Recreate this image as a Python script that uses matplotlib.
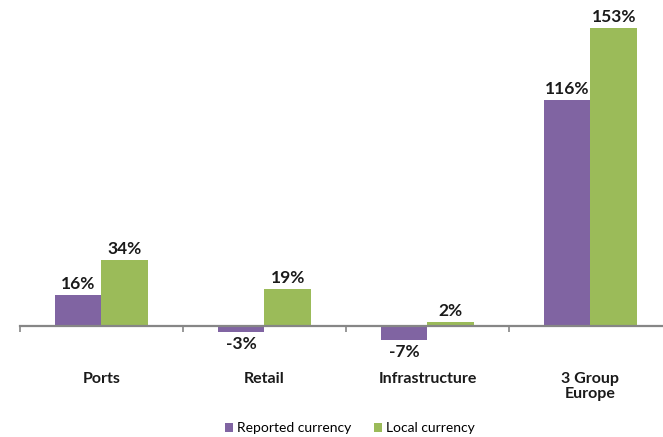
import matplotlib
matplotlib.use("Agg")
import matplotlib.pyplot as plt
from matplotlib.patches import Patch
import numpy as np

categories = ["Ports", "Retail", "Infrastructure", "3 Group\nEurope"]
reported = [16, -3, -7, 116]
local = [34, 19, 2, 153]
series_names = ["Reported currency", "Local currency"]
colors = ["#8064A2", "#9BBB59"]

plt.rcParams['font.family'] = ['Lato', 'DejaVu Sans']

W, H = 663, 437
fig = plt.figure(figsize=(W / 100, H / 100), dpi=100)

# axes: left px 20, right px 663, top px 0, bottom px ~350
ax = fig.add_axes([20 / W, (H - 350) / H, (663 - 20) / W, 350 / H])
ax.set_xlim(-0.5, 3.445)
ax.set_ylim(-12.3, 167.4)

x = np.arange(len(categories))
bw = 0.285
b1 = ax.bar(x - bw / 2, reported, bw, color=colors[0], label=series_names[0])
b2 = ax.bar(x + bw / 2, local, bw, color=colors[1], label=series_names[1])

for bars, vals in ((b1, reported), (b2, local)):
    for rect, v in zip(bars, vals):
        cx = rect.get_x() + rect.get_width() / 2
        if v >= 0:
            ax.annotate(f"{v}%", (cx, v), xytext=(0, 2), textcoords="offset points",
                        ha="center", va="bottom", fontsize=12.5, fontweight="bold", color="#1a1a1a")
        else:
            ax.annotate(f"{v}%", (cx, v), xytext=(0, -3), textcoords="offset points",
                        ha="center", va="top", fontsize=12.5, fontweight="bold", color="#1a1a1a")

for s in ("top", "right", "left"):
    ax.spines[s].set_visible(False)
ax.spines["bottom"].set_position(("data", 0))
ax.spines["bottom"].set_color("#868686")
ax.spines["bottom"].set_linewidth(1.6)
ax.set_yticks([])

ax.set_xticks(x)
ax.set_xticklabels(categories, fontsize=11.5, fontweight="bold", color="#1a1a1a", linespacing=1.1)
ax.tick_params(axis="x", which="major", length=0, pad=33)
ax.set_xticks(np.arange(-0.5, 3.5, 1.0), minor=True)
ax.tick_params(axis="x", which="minor", length=4, width=1.2, color="#868686", direction="out")

handles = [Patch(facecolor=c, edgecolor="none") for c in colors]
fig.legend(handles, series_names, loc="center", bbox_to_anchor=(350 / W, 1 - 428 / H),
           ncol=2, frameon=False, fontsize=10, handlelength=0.6, handleheight=0.6,
           handletextpad=0.3, columnspacing=1.6)

fig.savefig("out.png", dpi=100)
